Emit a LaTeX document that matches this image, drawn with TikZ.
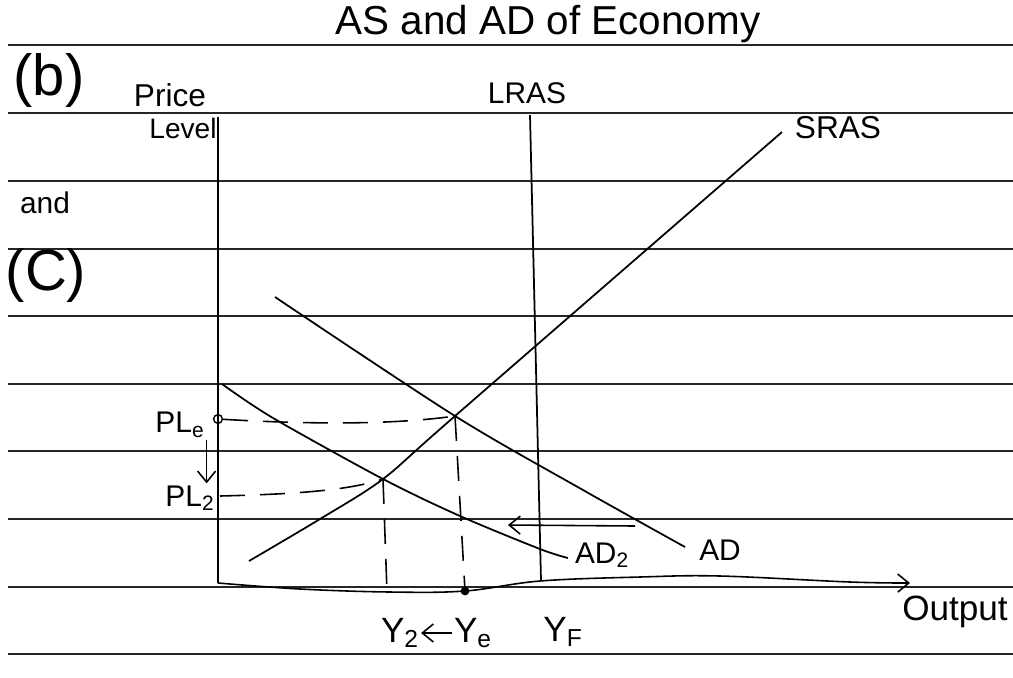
\documentclass[tikz,border=0pt]{standalone}
\usepackage{fontspec}
\setmainfont{Liberation Sans}
\usetikzlibrary{positioning, arrows.meta}

\begin{document}
\begin{tikzpicture}[
        x=0.02cm, y=-0.02cm,
        rule/.style={line width=0.9pt, black!85},
        curve/.style={line width=1pt, black},
        guide/.style={line width=0.9pt, dash pattern=on 0.5cm off 0.3cm},
        arrow/.style={->, line width=0.9pt, >={Straight Barb[length=2.2mm, width=3.6mm]}},
        lbl/.style={inner sep=1pt, font=\fontsize{17}{19}\selectfont},
        big/.style={inner sep=0pt, font=\fontsize{33}{35}\selectfont},
        dot/.style={circle, draw, line width=0.8pt, inner sep=0pt, minimum size=5pt}
    ]

    \useasboundingbox (0,0) rectangle (1013,677);
    \fill[white] (0,0) rectangle (1013,677);

    \foreach \ry in {45,113,181,249,316,384,451,519,587,654}
        \draw[rule] (8,\ry) -- (1013,\ry);

    \node[lbl, font=\fontsize{23}{25}\selectfont] (title) at (548,24) {AS and AD of Economy};
    \node[big] (partb) at (49,80) {(b)};
    \node[lbl, font=\fontsize{17}{19}\selectfont] (andtxt) at (45,203) {and};
    \node[big] (partc) at (46,275) {(C)};

    \node[lbl, font=\fontsize{18}{20}\selectfont] (price) at (170,95) {Price};
    \node[lbl, font=\fontsize{16}{18}\selectfont] (level) at (183,128) {Level};
    \node[lbl] (lras) at (527,93) {LRAS};
    \node[lbl, font=\fontsize{18}{20}\selectfont] (sras) at (838,128) {SRAS};
    \node[lbl] (ad) at (720,550) {AD};
    \node[lbl] (adtwo) at (602,555) {AD\textsubscript{2}};
    \node[lbl, font=\fontsize{20}{22}\selectfont] (output) at (955,612) {Output};

    \node[lbl] (ple) at (180,425) {PL\textsubscript{e}};
    \node[lbl] (pltwo) at (190,498) {PL\textsubscript{2}};
    \node[lbl, font=\fontsize{20}{22}\selectfont] (ytwo) at (400,633) {Y\textsubscript{2}};
    \node[lbl, font=\fontsize{20}{22}\selectfont] (ye) at (473,633) {Y\textsubscript{e}};
    \node[lbl, font=\fontsize{20}{22}\selectfont] (yf) at (563,632) {Y\textsubscript{F}};

    \coordinate (ytop) at (218,117);
    \coordinate (origin) at (218,583);
    \coordinate (xend) at (910,583);
    \coordinate (lrastop) at (530,115);
    \coordinate (lrasbot) at (541,581);
    \coordinate (E1) at (455,416);
    \coordinate (E2) at (383,479);
    \coordinate (srasbot) at (249,561);
    \coordinate (srastop) at (782,132);
    \coordinate (adtop) at (275,297);
    \coordinate (adbot) at (685,547);
    \coordinate (adtwotop) at (222,384);
    \coordinate (adtwobot) at (568,558);
    \coordinate (yetick) at (465,591);
    \coordinate (ytwotick) at (387,592);
    \coordinate (pltwotick) at (220,496);
    \coordinate (shiftfrom) at (635,526);
    \coordinate (shiftto) at (508,525);

    \draw[curve] (ytop) -- (origin);
    \draw[arrow] plot[smooth, tension=0.6] coordinates {(origin) (300,589) (390,592) (yetick) (540,581) (640,577) (720,576) (850,582) (xend)};
    \draw[curve] (lrastop) -- (lrasbot);

    \draw[curve] plot[smooth] coordinates {(srasbot) (320,519) (E2) (E1) (srastop)};
    \draw[curve] plot[smooth] coordinates {(adtop) (E1) (583,490) (adbot)};
    \draw[curve] plot[smooth] coordinates {(adtwotop) (273,418) (E2) (460,516) (540,549) (adtwobot)};

    \node[dot] (pledot) at (218,419) {};
    \draw[guide] (pledot) .. controls (320,425) and (400,424) .. (E1);
    \draw[guide] (pltwotick) .. controls (300,494) and (350,490) .. (E2);
    \draw[guide] (E2) -- (ytwotick);
    \draw[guide] (E1) -- (yetick);
    \fill (yetick) circle (2.5pt);

    \draw[arrow] (shiftfrom) -- (shiftto);
    \draw[arrow] ([xshift=0pt]ple.south east) -- ([xshift=0pt]ple.south east |- pltwo.north);
    \draw[arrow] (ye.west) -- (ytwo.east);

\end{tikzpicture}
\end{document}
